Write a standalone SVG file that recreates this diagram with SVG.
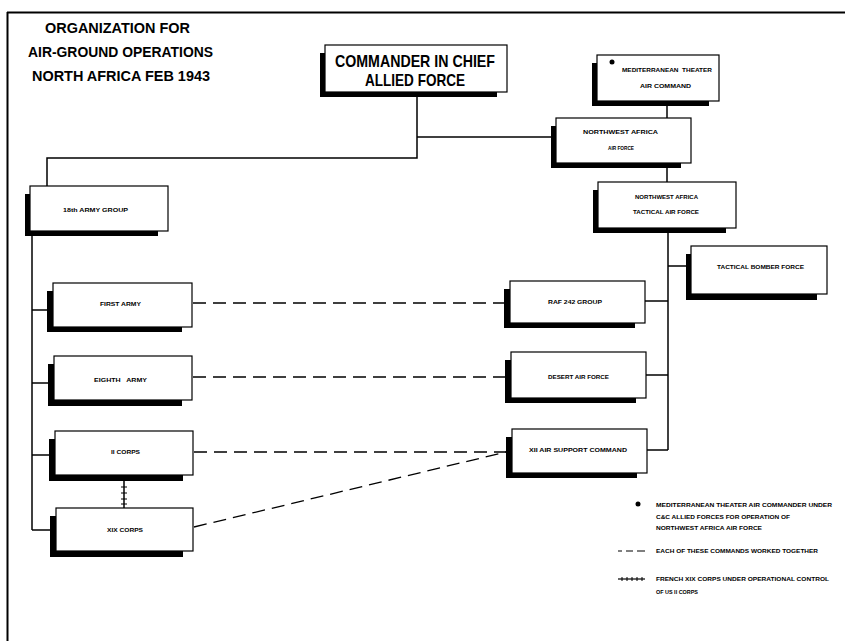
<svg xmlns="http://www.w3.org/2000/svg" width="845" height="641" viewBox="0 0 845 641">
<style>
.sh{fill:#000}
.bx{fill:#fff;stroke:#000;stroke-width:1.2}
.t{font-family:"Liberation Sans",Arial,sans-serif;font-weight:bold;fill:#000;text-anchor:middle;white-space:pre}
.s{font-size:6.2px}
.lg{font-family:"Liberation Sans",Arial,sans-serif;font-weight:bold;fill:#000;font-size:6.2px}
.ln{fill:none;stroke:#000;stroke-width:1.5}
.ds{fill:none;stroke:#000;stroke-width:1.3;stroke-dasharray:13 7}
</style>
<rect width="845" height="641" fill="#fff"/>
<g id="frame">
<line x1="7" y1="12.5" x2="845" y2="12.5" stroke="#000" stroke-width="2"/>
<line x1="7.5" y1="12" x2="7.5" y2="641" stroke="#000" stroke-width="2"/>
</g>
<g id="title">
<text class="t" x="117.5" y="33" font-size="14" textLength="145" lengthAdjust="spacingAndGlyphs">ORGANIZATION FOR</text>
<text class="t" x="120.5" y="57" font-size="14" textLength="185" lengthAdjust="spacingAndGlyphs">AIR-GROUND OPERATIONS</text>
<text class="t" x="121" y="81" font-size="14" textLength="178" lengthAdjust="spacingAndGlyphs">NORTH AFRICA FEB 1943</text>
</g>
<g id="connectors">
<polyline class="ln" points="417,92 417,158 47,158 47,186" stroke-width="2"/>
<line class="ln" x1="417" y1="137" x2="551" y2="137" stroke-width="2"/>
<line class="ln" x1="667" y1="101" x2="667" y2="118"/>
<line class="ln" x1="667" y1="163" x2="667" y2="182"/>
<line class="ln" x1="668" y1="228" x2="668" y2="450"/>
<line class="ln" x1="668" y1="266" x2="686" y2="266"/>
<line class="ln" x1="645" y1="301" x2="668" y2="301"/>
<line class="ln" x1="646" y1="375" x2="668" y2="375"/>
<line class="ln" x1="647" y1="450" x2="668" y2="450"/>
<line class="ln" x1="32" y1="235" x2="32" y2="530"/>
<line class="ln" x1="32" y1="310" x2="48" y2="310"/>
<line class="ln" x1="32" y1="383" x2="49" y2="383"/>
<line class="ln" x1="32" y1="455" x2="50" y2="455"/>
<line class="ln" x1="32" y1="530" x2="51" y2="530"/>
<line class="ln" x1="124" y1="481" x2="124" y2="508"/>
<path d="M121,487h6M121,493h6M121,499h6M121,504h6" stroke="#000" stroke-width="1"/>
<line class="ds" x1="193" y1="303" x2="504" y2="303"/>
<line class="ds" x1="193" y1="377" x2="505" y2="377"/>
<line class="ds" x1="194" y1="452" x2="506" y2="452"/>
<line class="ds" x1="194" y1="527" x2="506" y2="452"/>
</g>
<g id="n-cic">
<rect class="sh" x="320" y="53" width="177" height="44"/>
<rect class="bx" x="325" y="45" width="182" height="47"/>
<text class="t" x="415" y="67" font-size="17" textLength="160" lengthAdjust="spacingAndGlyphs">COMMANDER IN CHIEF</text>
<text class="t" x="415" y="86" font-size="17" textLength="100" lengthAdjust="spacingAndGlyphs">ALLIED FORCE</text>
</g>
<g id="n-mtac">
<rect class="sh" x="592" y="63" width="117" height="43"/>
<rect class="bx" x="597" y="55" width="122" height="46"/>
<circle cx="612" cy="62" r="2.5" fill="#000"/>
<text class="t s" x="667" y="72" textLength="90" lengthAdjust="spacingAndGlyphs" xml:space="preserve">MEDITERRANEAN  THEATER</text>
<text class="t s" x="665.5" y="88" textLength="51" lengthAdjust="spacingAndGlyphs">AIR COMMAND</text>
</g>
<g id="n-naaf">
<rect class="sh" x="551" y="126" width="130" height="42"/>
<rect class="bx" x="556" y="118" width="135" height="45"/>
<text class="t s" x="620.5" y="134" textLength="75" lengthAdjust="spacingAndGlyphs">NORTHWEST AFRICA</text>
<text class="t s" x="621" y="150" textLength="26" lengthAdjust="spacingAndGlyphs">AIR FORCE</text>
</g>
<g id="n-18ag">
<rect class="sh" x="25" y="194" width="133" height="42"/>
<rect class="bx" x="30" y="186" width="138" height="45"/>
<text class="t s" x="95.5" y="212" textLength="65" lengthAdjust="spacingAndGlyphs">18th ARMY GROUP</text>
</g>
<g id="n-nataf">
<rect class="sh" x="593" y="190" width="133" height="43"/>
<rect class="bx" x="598" y="182" width="138" height="46"/>
<text class="t s" x="666.5" y="199" textLength="63" lengthAdjust="spacingAndGlyphs">NORTHWEST AFRICA</text>
<text class="t s" x="666" y="214" textLength="66" lengthAdjust="spacingAndGlyphs">TACTICAL AIR FORCE</text>
</g>
<g id="n-tbf">
<rect class="sh" x="686" y="254" width="131" height="46"/>
<rect class="bx" x="691" y="246" width="136" height="48"/>
<text class="t s" x="760.5" y="269" textLength="87" lengthAdjust="spacingAndGlyphs">TACTICAL BOMBER FORCE</text>
</g>
<g id="n-first">
<rect class="sh" x="47" y="291" width="135" height="41"/>
<rect class="bx" x="53" y="283" width="139" height="44"/>
<text class="t s" x="120.5" y="306" textLength="41" lengthAdjust="spacingAndGlyphs">FIRST ARMY</text>
</g>
<g id="n-eighth">
<rect class="sh" x="48" y="364" width="134" height="42"/>
<rect class="bx" x="54" y="356" width="138" height="44"/>
<text class="t s" x="120.5" y="382" textLength="53" lengthAdjust="spacingAndGlyphs" xml:space="preserve">EIGHTH   ARMY</text>
</g>
<g id="n-ii">
<rect class="sh" x="49" y="439" width="134" height="42"/>
<rect class="bx" x="55" y="431" width="138" height="44"/>
<text class="t s" x="125.5" y="454" textLength="29" lengthAdjust="spacingAndGlyphs">II CORPS</text>
</g>
<g id="n-xix">
<rect class="sh" x="50" y="516" width="133" height="41"/>
<rect class="bx" x="56" y="508" width="137" height="43"/>
<text class="t s" x="125" y="532" textLength="36" lengthAdjust="spacingAndGlyphs">XIX CORPS</text>
</g>
<g id="n-raf">
<rect class="sh" x="504" y="289" width="131" height="39"/>
<rect class="bx" x="510" y="281" width="135" height="42"/>
<text class="t s" x="575" y="304" textLength="54" lengthAdjust="spacingAndGlyphs">RAF 242 GROUP</text>
</g>
<g id="n-daf">
<rect class="sh" x="505" y="360" width="131" height="43"/>
<rect class="bx" x="511" y="352" width="135" height="46"/>
<text class="t s" x="578.5" y="379" textLength="61" lengthAdjust="spacingAndGlyphs">DESERT AIR FORCE</text>
</g>
<g id="n-xii">
<rect class="sh" x="506" y="437" width="131" height="41"/>
<rect class="bx" x="512" y="429" width="135" height="44"/>
<text class="t s" x="578" y="452" textLength="98" lengthAdjust="spacingAndGlyphs">XII AIR SUPPORT COMMAND</text>
</g>
<g id="legend">
<circle cx="638" cy="504" r="2.5" fill="#000"/>
<text class="lg" x="656" y="507" textLength="176" lengthAdjust="spacingAndGlyphs">MEDITERRANEAN THEATER AIR COMMANDER UNDER</text>
<text class="lg" x="656" y="519" textLength="134" lengthAdjust="spacingAndGlyphs">C&amp;C ALLIED FORCES FOR OPERATION OF</text>
<text class="lg" x="656" y="530" textLength="106" lengthAdjust="spacingAndGlyphs">NORTHWEST AFRICA AIR FORCE</text>
<path d="M618,551h4M626,551h7M637,551h8" stroke="#000" stroke-width="1.2"/>
<text class="lg" x="656" y="553" textLength="162" lengthAdjust="spacingAndGlyphs">EACH OF THESE COMMANDS WORKED TOGETHER</text>
<line x1="618" y1="579" x2="645" y2="579" stroke="#000" stroke-width="1.2"/>
<path d="M622,577v4M627,577v4M632,577v4M637,577v4M642,577v4" stroke="#000" stroke-width="1"/>
<text class="lg" x="656" y="581" textLength="173" lengthAdjust="spacingAndGlyphs">FRENCH XIX CORPS UNDER OPERATIONAL CONTROL</text>
<text class="lg" x="656" y="594" textLength="42" lengthAdjust="spacingAndGlyphs">OF US II CORPS</text>
</g>
</svg>
